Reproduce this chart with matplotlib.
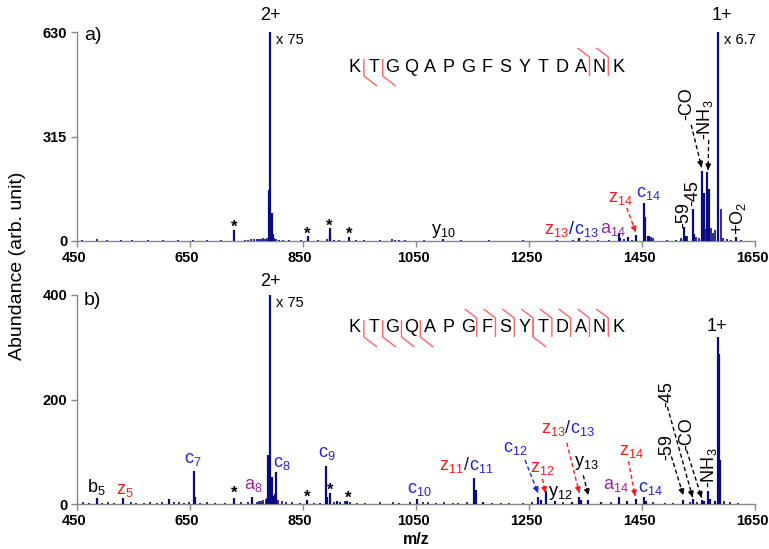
import numpy as np
import matplotlib
matplotlib.use("Agg")
import matplotlib.pyplot as plt
import matplotlib.transforms as mtransforms
from matplotlib.offsetbox import TextArea, HPacker, AnnotationBbox

plt.rcParams['font.family'] = ['Liberation Sans', 'DejaVu Sans']
plt.rcParams['mathtext.fontset'] = 'custom'
plt.rcParams['mathtext.rm'] = 'Liberation Sans'
plt.rcParams['mathtext.it'] = 'Liberation Sans'
plt.rcParams['mathtext.bf'] = 'Liberation Sans:bold'

# ---------------- data ----------------
sequence = list("KTGQAPGFSYTDANK")

# panel a) peaks (m/z, abundance)
a_mz = [727.5, 858, 897, 898.5, 931,
        789.5, 792, 794.5, 797,
        1098, 1338, 1409, 1411, 1425, 1439,
        1453.5, 1456, 1460, 1463,
        1524, 1527, 1539.5, 1542,
        1555.5, 1559, 1565.5, 1569,
        1584.5, 1616]
a_int = [33, 14, 39, 18, 12,
         154, 630, 84, 20,
         6, 9, 23, 8, 11, 19,
         116, 72, 16, 14,
         43, 15, 95, 22,
         212, 144, 207, 158,
         630, 11]
a_noise_mz = [458, 486, 503, 527, 548, 575, 602, 628, 655, 680, 705, 748, 752,
              758, 763, 768, 772, 776, 780, 783, 786, 799, 802, 808, 815, 826,
              846, 876, 893, 905, 913, 943, 958, 986, 1007, 1013, 1020, 1030,
              1065, 1130, 1180, 1240, 1300, 1328, 1352, 1372, 1392, 1418,
              1432, 1466, 1470, 1495, 1510, 1519, 1530, 1545, 1551, 1562,
              1572, 1575, 1579, 1589, 1594, 1600, 1608, 1625]
a_noise_int = [4, 6, 2, 2, 2, 2, 2, 2, 2, 2, 3, 3, 4,
               5, 5, 6, 5, 6, 8, 6, 10, 9, 5, 4, 3, 3,
               2, 3, 5, 3, 3, 3, 2, 4, 5, 4, 3, 2,
               2, 2, 2, 2, 2, 3, 3, 3, 3, 6,
               4, 12, 8, 3, 4, 8, 15, 12, 8, 35,
               40, 25, 33, 95, 8, 6, 3, 2]

# panel b) peaks
b_mz = [485, 531, 613, 657, 659,
        728, 760,
        788.5, 791.5, 794.5, 797.5, 800.5, 803,
        857.5, 890.5, 892, 898, 909.5, 928.5,
        1051, 1153, 1155.5, 1169,
        1266, 1270.5, 1280, 1296, 1325.5, 1339, 1342, 1355, 1378,
        1410, 1424, 1439, 1453.5, 1457,
        1523, 1540, 1555.5, 1560, 1567, 1570, 1579,
        1584, 1586, 1588]
b_int = [11, 11, 9, 64, 14,
         11, 14,
         94, 400, 52, 15, 20, 62,
         8, 73, 13, 22, 5, 6,
         9, 49, 27, 4,
         13, 8, 25, 5, 4, 13, 8, 8, 4,
         13, 5, 9, 13, 5,
         8, 9, 8, 6, 25, 10, 6,
         320, 288, 84]
b_noise_mz = [460, 472, 495, 505, 515, 545, 555, 568, 580, 592, 600, 622, 630,
              640, 648, 668, 680, 695, 712, 740, 752, 768, 772, 776, 780, 784,
              786, 806, 812, 820, 830, 845, 870, 880, 905, 915, 925, 934, 945,
              960, 986, 1009, 1020, 1040, 1062, 1071, 1085, 1100, 1115, 1125,
              1140, 1185, 1200, 1215, 1240, 1255, 1310, 1395, 1470, 1490,
              1505, 1535, 1548, 1595, 1605, 1620]
b_noise_int = [3, 2, 2, 3, 2, 3, 2, 2, 3, 2, 3, 4, 3,
               2, 3, 2, 3, 2, 2, 3, 3, 4, 5, 6, 7, 9,
               12, 8, 5, 3, 4, 2, 2, 2, 4, 3, 5, 4, 2,
               2, 4, 4, 2, 3, 3, 3, 2, 3, 2, 2,
               3, 2, 2, 2, 2, 3, 3, 3, 3, 2,
               2, 3, 3, 5, 3, 2]

a_yticks = [0, 315, 630]
b_yticks = [0, 200, 400]
x_ticks = [450, 650, 850, 1050, 1250, 1450, 1650]

# cleavage markers: index i = between residue i and i+1 (1-based)
a_c_cleave = [1, 2]
a_z_cleave = [13, 14]
b_c_cleave = [1, 2, 3, 4, 10]
b_z_cleave = [7, 8, 9, 10, 11, 12, 13, 14]

# ---------------- style ----------------
NAVY = '#0b0b80'
BLUE = '#2424d8'
RED = '#ff1a1a'
PURPLE = '#a020a8'
GRAY = '#888888'
MARK = '#ff6666'

W, H = 769, 549
fig = plt.figure(figsize=(W / 100, H / 100), dpi=100)

def px_axes(l, r, t, b):
    return fig.add_axes([l / W, 1 - b / H, (r - l) / W, (b - t) / H])

axA = px_axes(77, 755, 32, 241)
axB = px_axes(77, 755, 295, 504)

def style(ax, ymax, yt):
    ax.set_xlim(450, 1650)
    ax.set_ylim(0, ymax)
    for s in ['top', 'right']:
        ax.spines[s].set_visible(False)
    for s in ['left', 'bottom']:
        ax.spines[s].set_color(GRAY)
        ax.spines[s].set_linewidth(1.0)
    ax.set_yticks(yt)
    ax.set_xticks(x_ticks)
    ax.tick_params(axis='both', direction='out', length=4, width=1, color=GRAY,
                   labelsize=10.5, pad=3)
    shift = mtransforms.ScaledTranslation(-3 / 100, 0, fig.dpi_scale_trans)
    for lab in ax.get_xticklabels():
        lab.set_fontweight('bold')
        lab.set_transform(lab.get_transform() + shift)
    for lab in ax.get_yticklabels():
        lab.set_fontweight('bold')

style(axA, 630, a_yticks)
style(axB, 400, b_yticks)

def sticks(ax, mz, it, lw=1.6):
    ax.vlines(mz, 0, it, color=NAVY, lw=lw, clip_on=False, zorder=3)

sticks(axA, a_noise_mz, a_noise_int, 1.2)
sticks(axA, a_mz, a_int)
sticks(axB, b_noise_mz, b_noise_int, 1.2)
sticks(axB, b_mz, b_int)

def lab(ax, x, y, parts, size=13, align=(0.5, 0)):
    kids = [TextArea(t, textprops=dict(color=c, fontsize=size)) for t, c in parts]
    box = HPacker(children=kids, align='baseline', pad=0, sep=0)
    ab = AnnotationBbox(box, (x, y), xycoords='data', frameon=False,
                        box_alignment=align, pad=0, annotation_clip=False)
    ax.add_artist(ab)

def rtext(ax, x, y, s, size=13, color='black'):
    ax.text(x, y, s, rotation=90, ha='center', va='center', fontsize=size,
            color=color, clip_on=False)

def darrow(ax, start, end, color):
    ax.plot([start[0], end[0]], [start[1], end[1]], color=color, lw=1.0,
            ls=(0, (3, 2)), clip_on=False, zorder=4)
    p0 = ax.transData.transform(start)
    p1 = ax.transData.transform(end)
    d = p1 - p0
    u = d / np.hypot(*d)
    ax.annotate('', xy=end, xycoords='data', xytext=(-u[0] * 7, -u[1] * 7),
                textcoords='offset pixels',
                arrowprops=dict(arrowstyle='-|>', color=color, lw=1.0,
                                mutation_scale=8, shrinkA=0, shrinkB=0),
                annotation_clip=False)

def star(ax, x, y):
    ax.text(x, y, '*', ha='center', va='center', fontsize=12, fontweight='bold',
            color='black', clip_on=False)

def seq(ax, yfrac, c_cl, z_cl):
    x0 = (355 - 77) / 678
    dx = 18.8 / 678
    px_x = 1 / 678
    ax_h = 209
    for i, ch in enumerate(sequence):
        ax.text(x0 + i * dx, yfrac, ch, transform=ax.transAxes, ha='center',
                va='center', fontsize=13, color='black')
    def seg(xs, ys):
        ax.plot(xs, ys, transform=ax.transAxes, color=MARK, lw=1.0,
                clip_on=False, solid_capstyle='butt')
    for i in c_cl:
        xm = x0 + (i - 0.5) * dx - 0.5 * px_x
        seg([xm, xm, xm + 13 * px_x],
            [yfrac + 8 / ax_h, yfrac - 9 / ax_h, yfrac - 19 / ax_h])
    for i in z_cl:
        xm = x0 + (i - 0.5) * dx - 0.5 * px_x
        seg([xm - 12 * px_x, xm, xm],
            [yfrac + 19 / ax_h, yfrac + 10 / ax_h, yfrac - 9 / ax_h])

# ---------- panel a annotations ----------
axA.text(462, 618, 'a)', fontsize=14, ha='left', va='center')
axA.text(792, 680, '2+', fontsize=13, ha='center', va='center', clip_on=False)
axA.text(803, 606, 'x 75', fontsize=10.5, ha='left', va='center')
axA.text(1591, 680, '1+', fontsize=13, ha='center', va='center', clip_on=False)
axA.text(1595, 606, 'x 6.7', fontsize=10.5, ha='left', va='center')
for x, y in [(727.5, 40), (858, 19), (897, 43), (931, 19)]:
    star(axA, x, y)
lab(axA, 1098, 4, [('y$_{10}$', 'black')])
lab(axA, 1325, 7, [('z$_{13}$', RED), ('/', NAVY), ('c$_{13}$', BLUE)])
lab(axA, 1399, 10, [('a$_{14}$', PURPLE)])
lab(axA, 1411, 103, [('z$_{14}$', RED)])
darrow(axA, (1423, 100), (1439, 26), RED)
lab(axA, 1461, 118, [('c$_{14}$', BLUE)])
rtext(axA, 1524, 78, '-59')
rtext(axA, 1540, 146, '-45')
rtext(axA, 1529, 413, '-CO')
darrow(axA, (1537, 350), (1555.5, 222), 'black')
rtext(axA, 1561, 365, '-NH$_3$')
darrow(axA, (1568, 304), (1567, 214), 'black')
rtext(axA, 1620, 69, '+O$_2$')
seq(axA, (241 - 67) / 209, a_c_cleave, a_z_cleave)

# ---------- panel b annotations ----------
axB.text(462, 390, 'b)', fontsize=14, ha='left', va='center')
axB.text(792, 425, '2+', fontsize=13, ha='center', va='center', clip_on=False)
axB.text(803, 385, 'x 75', fontsize=10.5, ha='left', va='center')
axB.text(1583, 339, '1+', fontsize=13, ha='center', va='center', clip_on=False)
lab(axB, 485, 14, [('b$_5$', 'black')])
lab(axB, 535, 9, [('z$_5$', RED)])
lab(axB, 655.5, 68, [('c$_7$', BLUE)])
lab(axB, 761.5, 20, [('a$_8$', PURPLE)])
lab(axB, 813, 62, [('c$_8$', BLUE)])
lab(axB, 892.5, 81, [('c$_9$', BLUE)])
for x, y in [(728, 20), (858, 12), (898, 26), (930, 11)]:
    star(axB, x, y)
lab(axB, 1056.5, 11, [('c$_{10}$', BLUE)])
lab(axB, 1138.5, 55, [('z$_{11}$', RED), ('/', NAVY), ('c$_{11}$', BLUE)])
lab(axB, 1225, 90, [('c$_{12}$', BLUE)])
darrow(axB, (1243, 84), (1266, 21), BLUE)
lab(axB, 1274, 52, [('z$_{12}$', RED)])
darrow(axB, (1274, 48), (1279, 21), RED)
lab(axB, 1306, 4, [('y$_{12}$', 'black')])
lab(axB, 1319, 127, [('z$_{13}$', RED), ('/', NAVY), ('c$_{13}$', BLUE)])
darrow(axB, (1317, 117), (1339, 21), RED)
lab(axB, 1352, 62, [('y$_{13}$', 'black')])
darrow(axB, (1346, 55), (1355, 17), 'black')
lab(axB, 1403, 19, [('a$_{14}$', PURPLE)])
lab(axB, 1432, 84, [('z$_{14}$', RED)])
darrow(axB, (1426, 82), (1438, 15), RED)
lab(axB, 1464, 14, [('c$_{14}$', BLUE)])
rtext(axB, 1493.5, 109, '-59')
darrow(axB, (1502, 91), (1523, 17), 'black')
rtext(axB, 1493.5, 210, '-45')
darrow(axB, (1495, 186), (1539.5, 13), 'black')
rtext(axB, 1529, 134, '-CO')
darrow(axB, (1529, 103), (1555.5, 12), 'black')
rtext(axB, 1568, 70, '-NH$_3$')
seq(axB, (504 - 328) / 209, b_c_cleave, b_z_cleave)

fig.text(18 / W, 1 - 266 / H, 'Abundance (arb. unit)', rotation=90,
         ha='center', va='center', fontsize=14)
fig.text(416 / W, 1 - 540 / H, 'm/z', ha='center', va='center', fontsize=11.5,
         fontweight='bold')

fig.savefig('out.png', dpi=100)
